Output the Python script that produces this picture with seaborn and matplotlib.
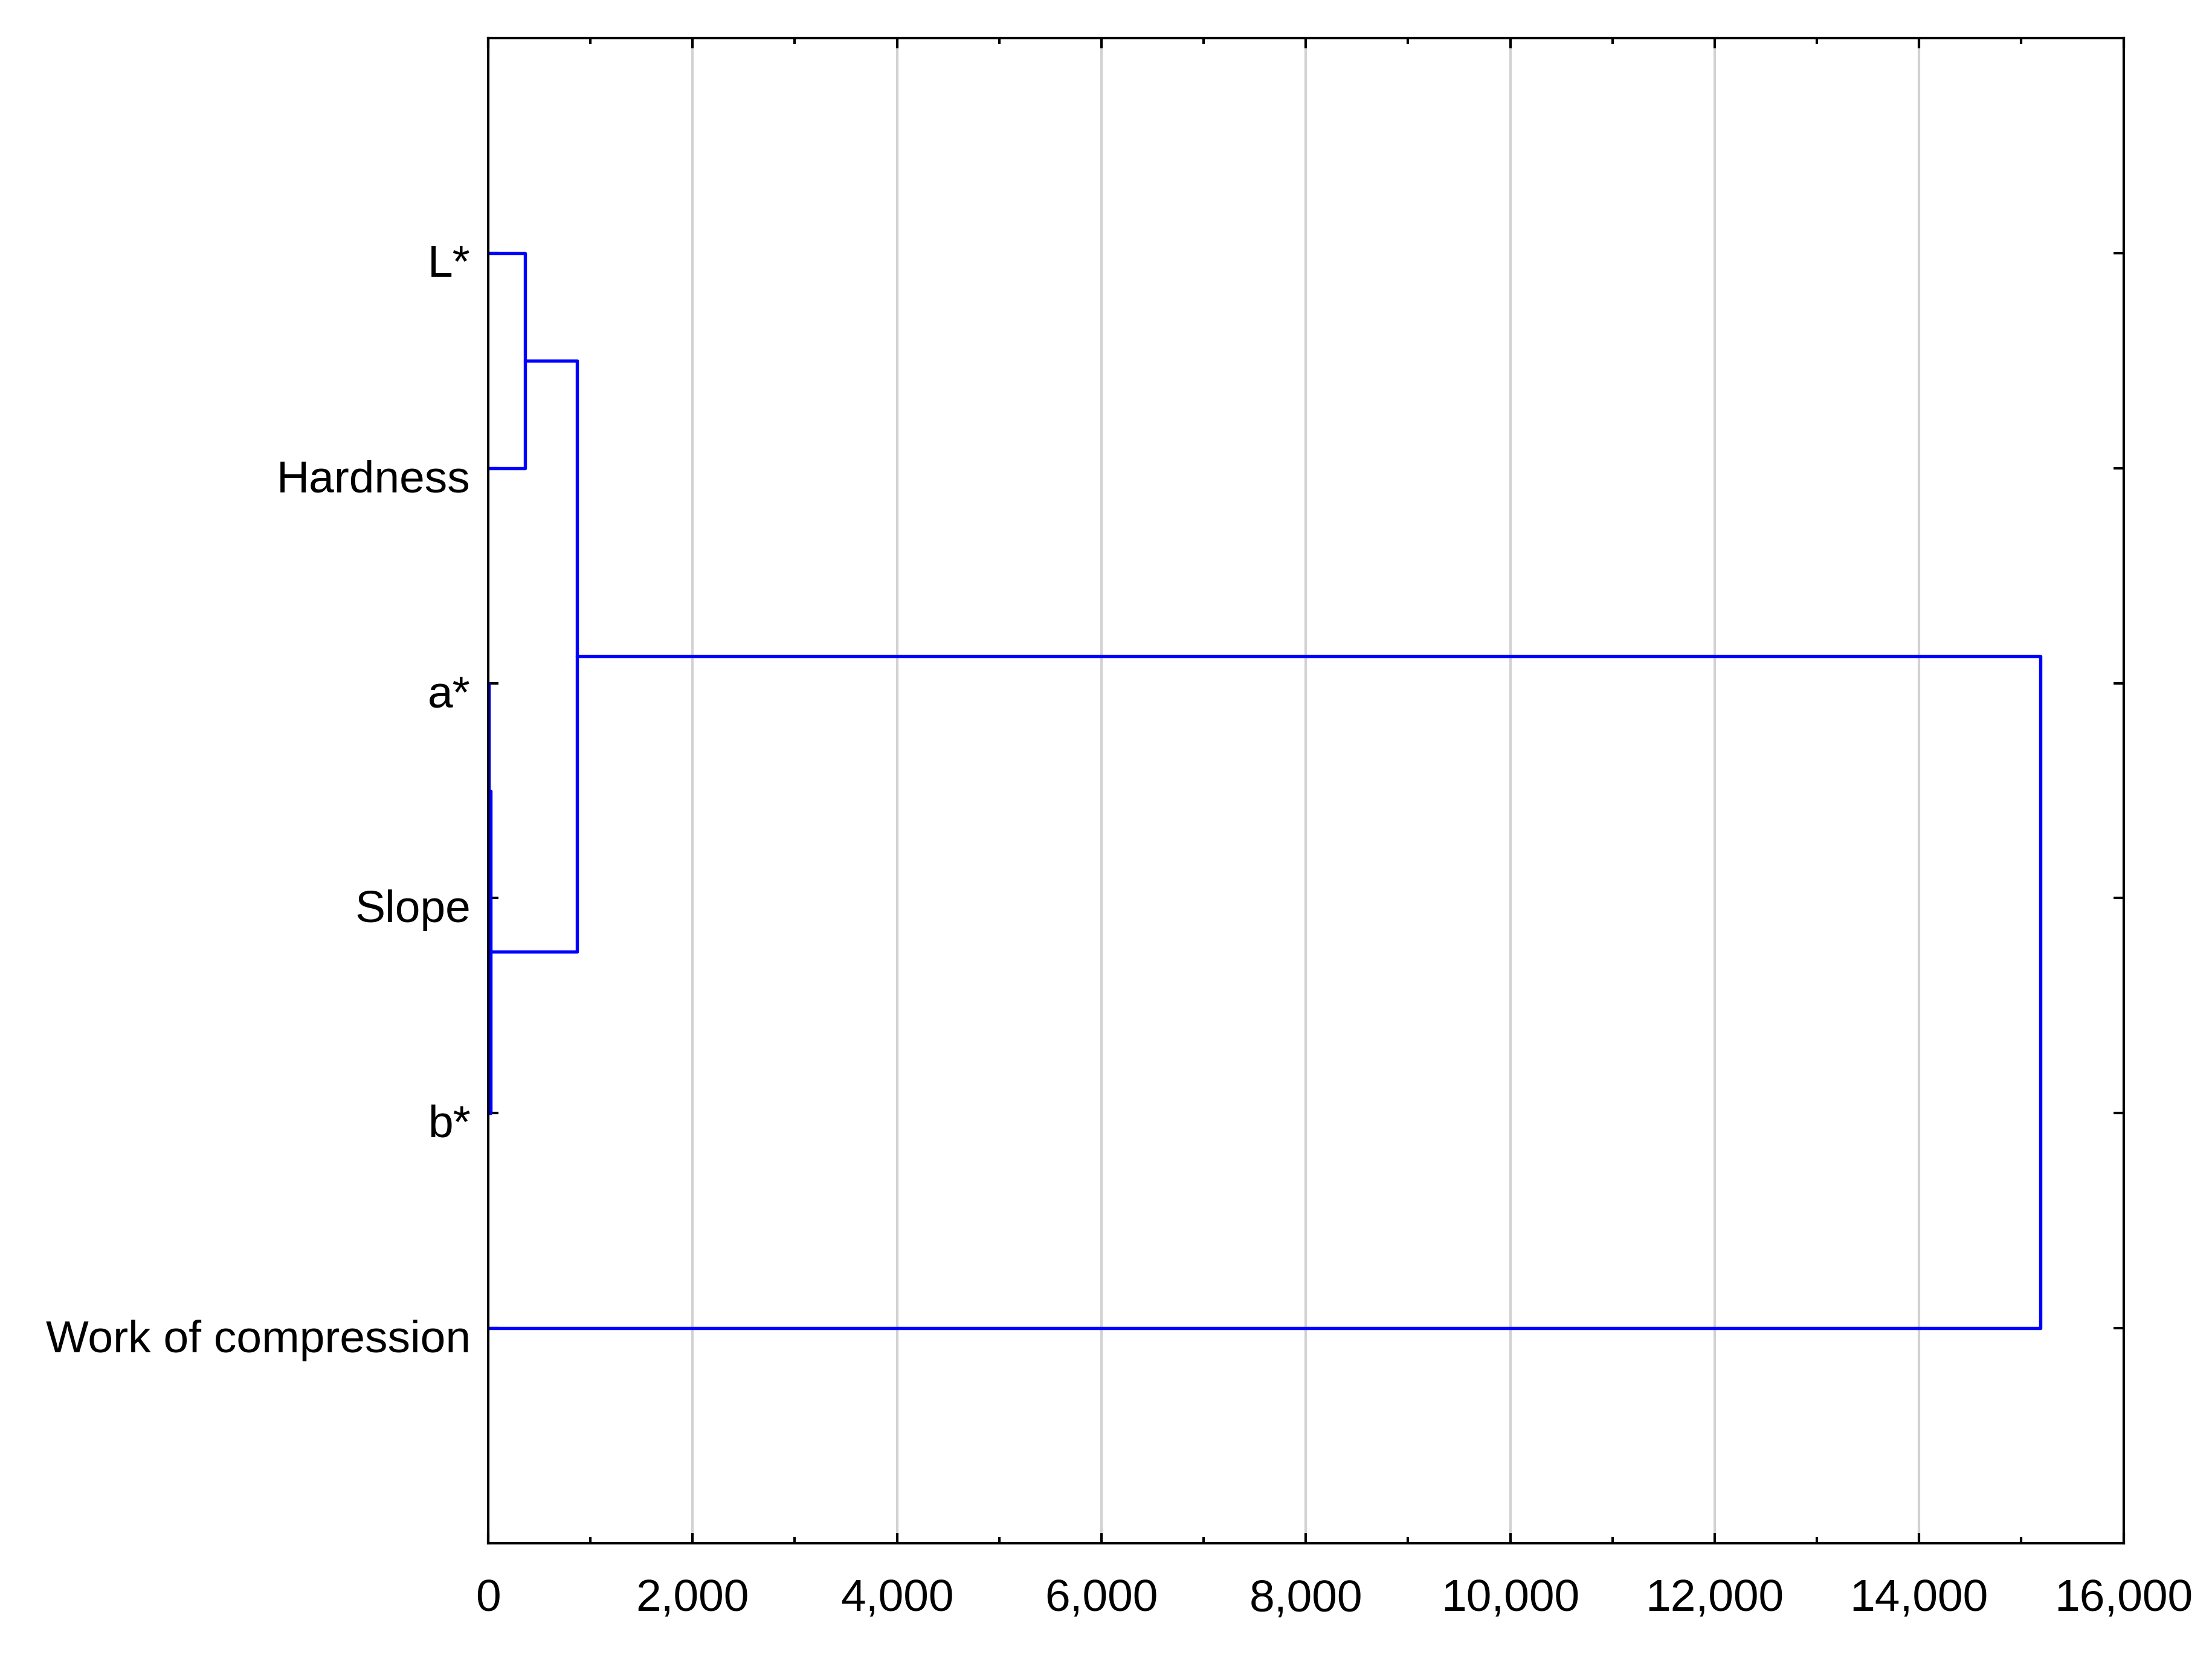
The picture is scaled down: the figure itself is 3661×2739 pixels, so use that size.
import matplotlib
matplotlib.use("Agg")
import matplotlib.pyplot as plt
import matplotlib.transforms as mtransforms
import seaborn as sns
import pandas as pd
from matplotlib.ticker import MultipleLocator, FuncFormatter

# leaves, top to bottom
labels = ["L*", "Hardness", "a*", "Slope", "b*", "Work of compression"]

# linkage steps (scipy style: new cluster ids start at len(labels))
left_child = [0, 2, 7, 6, 9]
right_child = [1, 3, 4, 8, 5]
distance = [359, 8, 25, 870, 15185]

x_ticks = [0, 2000, 4000, 6000, 8000, 10000, 12000, 14000, 16000]


def build_links():
    n = len(labels)
    node_x = {i: 0.0 for i in range(n)}
    node_y = {i: float(i + 1) for i in range(n)}
    rows = []
    for k, (a, b, d) in enumerate(zip(left_child, right_child, distance)):
        pts = [(node_x[a], node_y[a]), (d, node_y[a]), (d, node_y[b]), (node_x[b], node_y[b])]
        for order, (px, py) in enumerate(pts):
            rows.append({"link": k, "order": order, "dist": px, "pos": py})
        node_x[n + k] = d
        node_y[n + k] = (node_y[a] + node_y[b]) / 2
    return pd.DataFrame(rows)


def main():
    sns.set_style("white")
    plt.rcParams["font.family"] = ["Liberation Sans", "DejaVu Sans"]

    fig = plt.figure(figsize=(3661 / 300, 2739 / 300), dpi=300)
    ax = fig.add_axes([0.2207, 0.0675, 0.960 - 0.2207, 0.977 - 0.0675])

    df = build_links()
    sns.lineplot(data=df, x="dist", y="pos", units="link", estimator=None, sort=False,
                 color="#0000ff", linewidth=1.3, ax=ax, legend=False, zorder=3)

    ax.set_xlim(0, 16000)
    ax.set_ylim(7, 0)
    ax.set_xticks(x_ticks)
    ax.xaxis.set_minor_locator(MultipleLocator(1000))
    ax.xaxis.set_major_formatter(FuncFormatter(lambda v, p: "{:,.0f}".format(v)))
    ax.set_yticks(range(1, len(labels) + 1))
    ax.set_yticklabels(labels)

    ax.grid(axis="x", color="#d2d2d2", linewidth=1.0)
    ax.grid(axis="y", visible=False)
    ax.set_axisbelow(True)

    ax.tick_params(axis="both", which="both", direction="in", top=True, right=True,
                   bottom=True, left=True, color="black", width=1.0, labelcolor="black")
    ax.tick_params(axis="both", which="major", length=4, labelsize=18)
    ax.tick_params(axis="x", which="minor", length=2.5)
    ax.tick_params(axis="x", which="major", pad=14)
    ax.tick_params(axis="y", which="major", pad=7)

    # labels sit a little below their ticks in the original
    shift = mtransforms.ScaledTranslation(0, -3 / 72, fig.dpi_scale_trans)
    for lab in ax.get_yticklabels():
        lab.set_transform(lab.get_transform() + shift)

    for s in ax.spines.values():
        s.set_color("black")
        s.set_linewidth(1.0)
        s.set_zorder(4)

    ax.set_xlabel("")
    ax.set_ylabel("")

    fig.savefig("out.png", dpi=300, facecolor="white")


if __name__ == "__main__":
    main()
